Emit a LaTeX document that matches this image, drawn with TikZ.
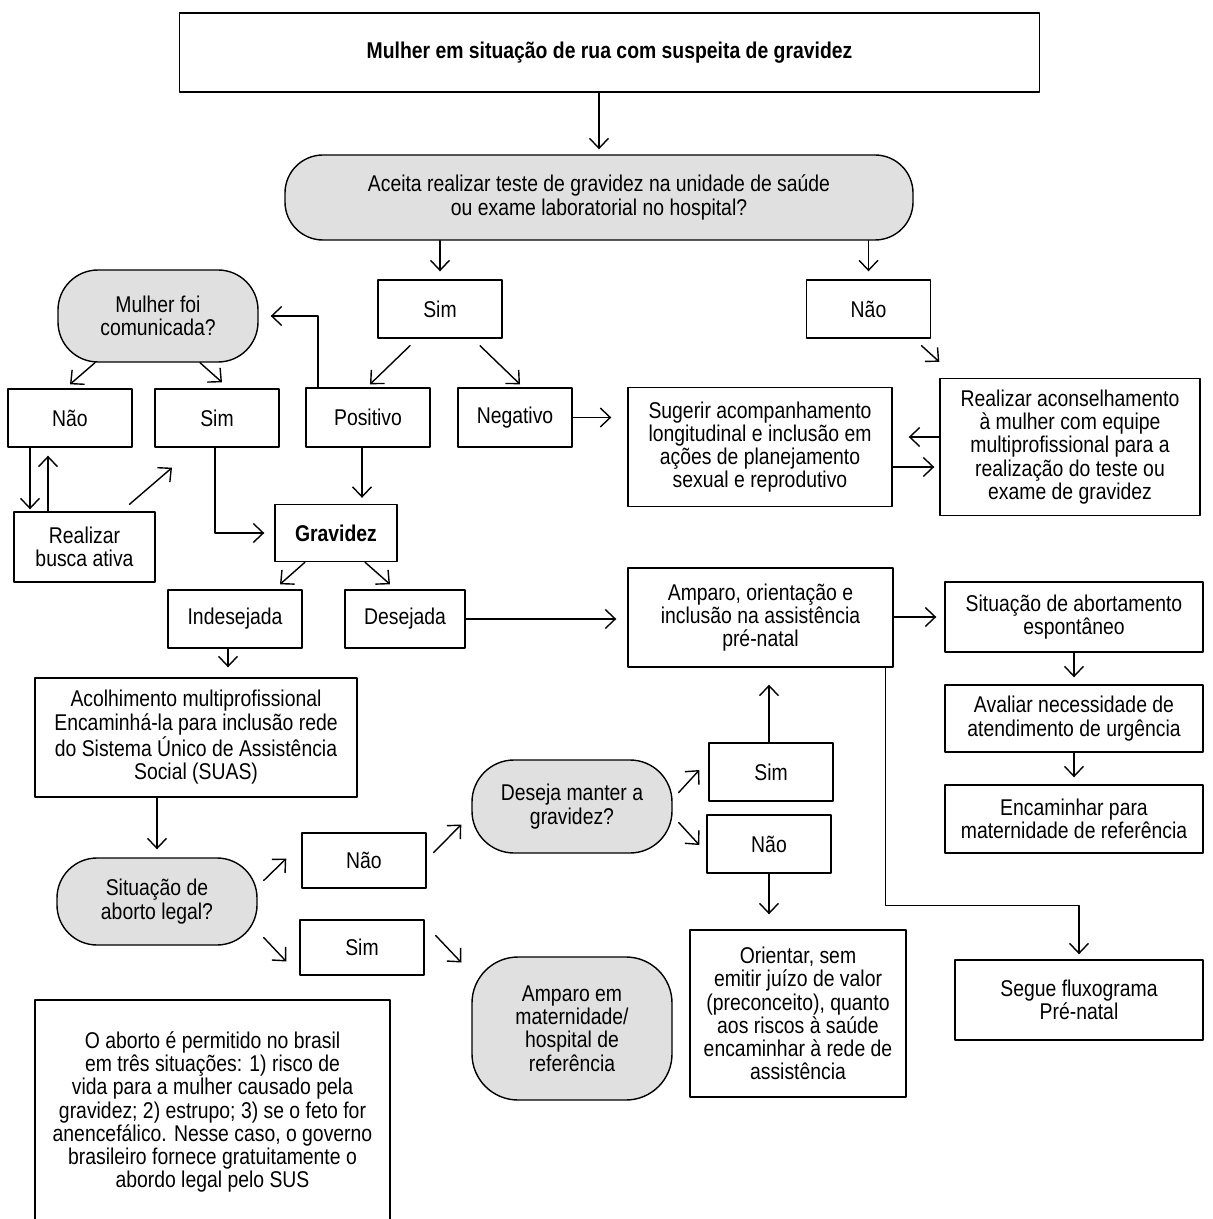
\documentclass[tikz,border=0pt]{standalone}
\usepackage{fontspec}
\setmainfont{Liberation Sans}[FakeStretch=0.85]
\usetikzlibrary{arrows.meta,calc}
\definecolor{decgray}{gray}{0.88}

\begin{document}
\begin{tikzpicture}[x=0.5pt,y=-0.5pt,line cap=round,line join=round,
    box/.style={draw,line width=0.7pt,inner sep=0pt,align=center,font=\fontsize{11.4}{11.6}\selectfont},
    decision/.style={box,fill=decgray,rounded corners=19pt},
    arr/.style={line width=0.7pt,-{Straight Barb[length=5pt,width=9.5pt]}}]
    \useasboundingbox (0,0) rectangle (1213,1219);

    \node[box,minimum width=430pt,minimum height=39.5pt,font=\fontsize{11.4}{11.6}\selectfont\bfseries] (top) at (609.5,52.5) {Mulher em situação de rua com suspeita de gravidez};
    \node[decision,minimum width=314pt,minimum height=42.5pt] (aceita) at (599,197.5) {Aceita realizar teste de gravidez na unidade de saúde\\ou exame laboratorial no hospital?};
    \node[box,minimum width=62pt,minimum height=29pt] (simA) at (440,309) {Sim};
    \node[box,minimum width=62pt,minimum height=29pt] (naoA) at (868.5,309) {Não};
    \node[box,minimum width=62pt,minimum height=29.5pt] (pos) at (368,417.5) {Positivo};
    \node[box,minimum width=57pt,minimum height=29.5pt] (neg) at (515,417.5) {Negativo};
    \node[box,minimum width=132pt,minimum height=59.5pt] (sug) at (760,447) {Sugerir acompanhamento\\longitudinal e inclusão em\\ações de planejamento\\sexual e reprodutivo};
    \node[box,minimum width=130pt,minimum height=68.5pt] (acons) at (1070,447) {Realizar aconselhamento\\à mulher com equipe\\multiprofissional para a\\realização do teste ou\\exame de gravidez};
    \node[decision,minimum width=100pt,minimum height=46pt,rounded corners=20pt] (comun) at (158,316) {Mulher foi\\comunicada?};
    \node[box,minimum width=62pt,minimum height=29pt] (naoB) at (70,418) {Não};
    \node[box,minimum width=62pt,minimum height=29pt] (simB) at (217,418) {Sim};
    \node[box,minimum width=70.5pt,minimum height=35pt] (busca) at (84.5,547) {Realizar\\busca ativa};
    \node[box,minimum width=61pt,minimum height=28.5pt,font=\fontsize{11.4}{11.6}\selectfont\bfseries] (grav) at (336,533) {Gravidez};
    \node[box,minimum width=67pt,minimum height=29pt] (indes) at (235,619) {Indesejada};
    \node[box,minimum width=60pt,minimum height=29pt] (desej) at (405,619) {Desejada};
    \node[box,minimum width=132.5pt,minimum height=49.5pt] (ampA) at (760.5,617.5) {Amparo, orientação e\\inclusão na assistência\\pré-natal};
    \node[box,minimum width=129pt,minimum height=35pt] (esp) at (1074,617) {Situação de abortamento\\espontâneo};
    \node[box,minimum width=129pt,minimum height=33.5pt] (aval) at (1074,718.5) {Avaliar necessidade de\\atendimento de urgência};
    \node[box,minimum width=129pt,minimum height=34pt] (enc) at (1074,819) {Encaminhar para\\maternidade de referência};
    \node[box,minimum width=124pt,minimum height=40pt] (segue) at (1079,1000) {Segue fluxograma\\Pré-natal};
    \node[box,minimum width=161pt,minimum height=59.5pt] (acolh) at (196,737.5) {Acolhimento multiprofissional\\Encaminhá-la para inclusão rede\\do Sistema Único de Assistência\\Social (SUAS)};
    \node[decision,minimum width=100pt,minimum height=43.5pt,rounded corners=20pt] (legal) at (157,901.5) {Situação de\\aborto legal?};
    \node[box,minimum width=62pt,minimum height=27.5pt] (naoC) at (364,860.5) {Não};
    \node[box,minimum width=62pt,minimum height=27.5pt] (simC) at (362,947.5) {Sim};
    \node[decision,minimum width=100pt,minimum height=46.5pt,rounded corners=21pt] (desm) at (572,806.5) {Deseja manter a\\gravidez?};
    \node[box,minimum width=62pt,minimum height=29pt] (simD) at (771,772) {Sim};
    \node[box,minimum width=62pt,minimum height=29pt] (naoD) at (769,844) {Não};
    \node[box,minimum width=108pt,minimum height=83.5pt] (orient) at (798,1013.5) {Orientar, sem\\emitir juízo de valor\\(preconceito), quanto\\aos riscos à saúde\\encaminhar à rede de\\assistência};
    \node[decision,minimum width=100pt,minimum height=71.5pt,rounded corners=23pt] (matern) at (572,1028.5) {Amparo em\\maternidade/\\hospital de\\referência};
    \node[box,minimum width=177.5pt,minimum height=112pt] (nota) at (212.5,1112) {O aborto é permitido no brasil\\em três situações: 1) risco de\\vida para a mulher causado pela\\gravidez; 2) estrupo; 3) se o feto for\\anencefálico. Nesse caso, o governo\\brasileiro fornece gratuitamente o\\abordo legal pelo SUS};

    \draw[arr,shorten >=2.5pt] (top.south -| aceita.north) -- (aceita.north);
    \draw[arr,shorten >=4pt] (simA.north |- aceita.south) -- (simA.north);
    \draw[arr,shorten >=4pt] (naoA.north |- aceita.south) -- (naoA.north);
    \draw[arr] ([shift={(-30,7)}]simA.south) -- ([shift={(2,-3)}]pos.north);
    \draw[arr] ([shift={(40,7)}]simA.south) -- ([shift={(5,-3)}]neg.north);
    \draw[arr,shorten >=8pt] (neg.east) -- (neg.east -| sug.west);
    \draw[arr] ([shift={(53,7)}]naoA.south) -- ([shift={(0,-16)}]acons.north west);
    \draw[arr,shorten >=8pt] ([shift={(0,-10)}]acons.west) -- ([shift={(0,-10)}]sug.east);
    \draw[arr,shorten >=2.5pt] ([shift={(0,20)}]sug.east) -- ([shift={(0,20)}]acons.west);
    \draw[arr,shorten >=6pt] ([shift={(-50,0)}]pos.north) |- (comun.east);
    \draw[arr] ([shift={(-63,0)}]comun.south) -- ([shift={(0,-4)}]naoB.north);
    \draw[arr] ([shift={(42,0)}]comun.south) -- ([shift={(5,-6)}]simB.north);
    \draw[arr,shorten >=1pt] ([shift={(-40,0)}]naoB.south) -- ([shift={(-54.5,0)}]busca.north);
    \draw[arr,shorten >=4pt] ([shift={(-36.5,0)}]busca.north) -- ([shift={(-22,0)}]naoB.south);
    \draw[arr] ([shift={(45,-7)}]busca.north) -- ([shift={(-45,20)}]simB.south);
    \draw[arr,shorten >=5pt] ([shift={(-2,0)}]simB.south) |- (grav.west);
    \draw[arr,shorten >=3pt] ([shift={(-6,0)}]pos.south) -- ([shift={(26,0)}]grav.north);
    \draw[arr] ([shift={(-31,0)}]grav.south) -- ([shift={(45,-5)}]indes.north);
    \draw[arr] ([shift={(29,0)}]grav.south) -- ([shift={(-15,-5)}]desej.north);
    \draw[arr,shorten >=5.5pt] (desej.east) -- (desej.east -| ampA.west);
    \draw[arr,shorten >=5pt] ([shift={(-7,0)}]indes.south) -- ([shift={(-7,0)}]indes.south |- acolh.north);
    \draw[arr,shorten >=4pt] (ampA.east |- esp.west) -- (esp.west);
    \draw[arr,shorten >=3.5pt] (esp.south) -- (aval.north);
    \draw[arr,shorten >=3.5pt] (aval.south) -- (enc.north);
    \draw[arr,shorten >=2.5pt] ([shift={(-8,0)}]ampA.south east) -- ++(0,238) -| (segue.north);
    \draw[arr,shorten >=4pt] (legal.north |- acolh.south) -- (legal.north);
    \draw[arr] ([shift={(6,-21)}]legal.east) -- ([shift={(-15,-2)}]naoC.west);
    \draw[arr] ([shift={(6,36)}]legal.east) -- ([shift={(-13,14)}]simC.west);
    \draw[arr] ([shift={(7,-8)}]naoC.east) -- ([shift={(-10,18)}]desm.west);
    \draw[arr] ([shift={(6,-14)}]desm.east) -- ([shift={(-9,-2)}]simD.west);
    \draw[arr] ([shift={(6,16)}]desm.east) -- ([shift={(-7,1)}]naoD.west);
    \draw[arr,shorten >=8.5pt] ([shift={(-2,0)}]simD.north) -- ([shift={(-2,0)}]simD.north |- ampA.south);
    \draw[arr,shorten >=7.5pt] (naoD.south) -- (naoD.south |- orient.north);
    \draw[arr] ([shift={(11,-12)}]simC.east) -- ([shift={(-10,-66)}]matern.west);
\end{tikzpicture}
\end{document}
